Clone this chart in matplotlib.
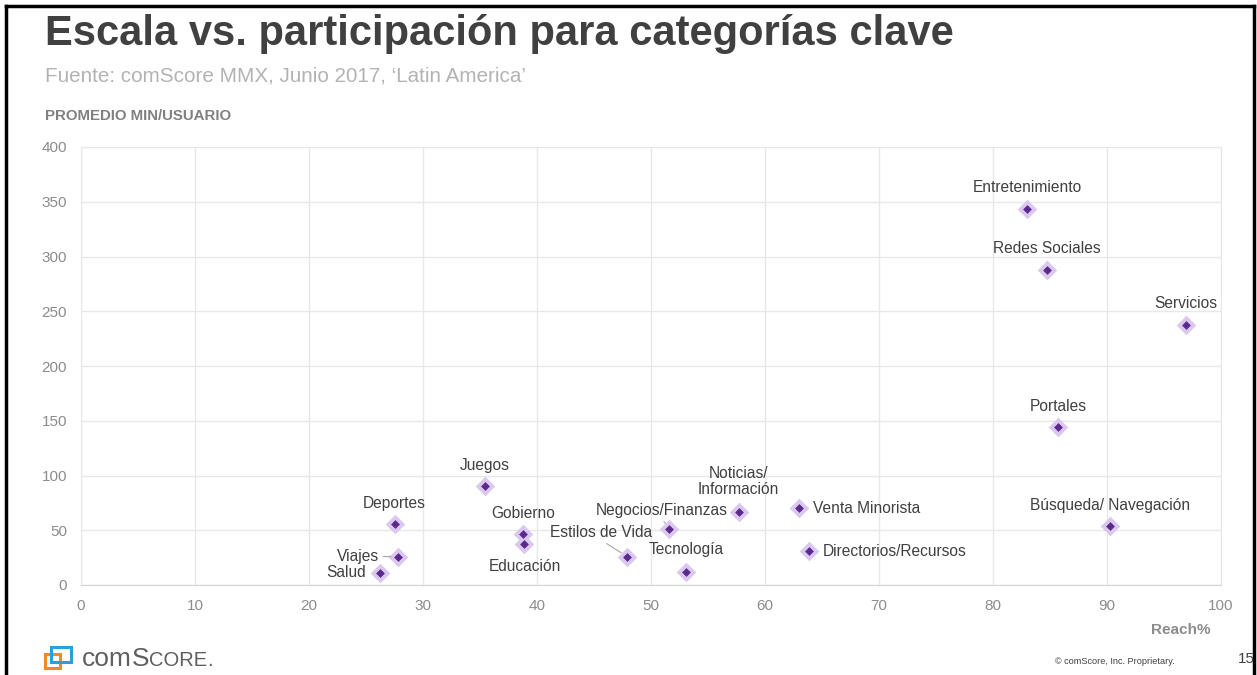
import matplotlib.pyplot as plt
from matplotlib.patches import Rectangle

plt.rcParams['font.family'] = ['Liberation Sans', 'DejaVu Sans']

# reach % vs average minutes per user
categories = ['Entretenimiento', 'Redes Sociales', 'Servicios', 'Portales',
              'Búsqueda/ Navegación', 'Venta Minorista', 'Directorios/Recursos',
              'Noticias/\nInformación', 'Negocios/Finanzas', 'Tecnología',
              'Estilos de Vida', 'Juegos', 'Gobierno', 'Educación',
              'Deportes', 'Viajes', 'Salud']
reach = [83.0, 84.7, 96.9, 85.7, 90.3, 63.0, 63.9, 57.7, 51.6, 53.1,
         47.9, 35.4, 38.8, 38.9, 27.5, 27.8, 26.2]
minutes = [343, 288, 237, 144, 54, 70, 31, 67, 51, 12,
           26, 90, 47, 37, 56, 26, 11]

x_ticks = list(range(0, 101, 10))
y_ticks = list(range(0, 401, 50))

# label placement: (dx px, dy px, ha, leader line start on text or None)
label_pos = {
    'Entretenimiento': (0, 22, 'center', None),
    'Redes Sociales': (0, 21, 'center', None),
    'Servicios': (0, 22, 'center', None),
    'Portales': (0, 21, 'center', None),
    'Búsqueda/ Navegación': (0, 20, 'center', None),
    'Venta Minorista': (14, 0, 'left', None),
    'Directorios/Recursos': (13, 0, 'left', None),
    'Noticias/\nInformación': (0, 30, 'center', None),
    'Negocios/Finanzas': (-8, 19, 'center', (0.5, 0)),
    'Tecnología': (0, 22, 'center', None),
    'Estilos de Vida': (-26, 24, 'center', (0.5, 0)),
    'Juegos': (0, 21, 'center', None),
    'Gobierno': (0, 20, 'center', None),
    'Educación': (0, -22, 'center', None),
    'Deportes': (0, 20, 'center', None),
    'Viajes': (-40, 0, 'center', (1, 0.5)),
    'Salud': (-34, 0, 'center', None),
}

fig = plt.figure(figsize=(12.57, 6.75), dpi=100)
ax = fig.add_axes([81 / 1257, 90 / 675, 1140 / 1257, 438 / 675])

ax.scatter(reach, minutes, marker='D', s=10 ** 2, color='#dcc8ef', zorder=3, linewidths=0)
ax.scatter(reach, minutes, marker='D', s=4.5 ** 2, color='#5c2a8e', zorder=4, linewidths=0)

for name, x, y in zip(categories, reach, minutes):
    dx, dy, ha, leader = label_pos[name]
    arrow = None
    if leader:
        arrow = dict(arrowstyle='-', color='#a6a6a6', lw=0.8, shrinkA=1, shrinkB=5,
                     relpos=leader)
    ax.annotate(name, (x, y), xytext=(dx, dy), textcoords='offset pixels',
                ha=ha, va='center', fontsize=11.2, color='#404040',
                multialignment='center', linespacing=1.05, arrowprops=arrow, zorder=5)

ax.set_xlim(0, 100)
ax.set_ylim(0, 400)
ax.set_xticks(x_ticks)
ax.set_yticks(y_ticks)
ax.grid(True, color='#e8e8e8', lw=1)
ax.set_axisbelow(True)
for side in ['top', 'right', 'left']:
    ax.spines[side].set_color('#e8e8e8')
ax.spines['bottom'].set_color('#d4d4d4')
ax.tick_params(length=0, labelsize=11, labelcolor='#8c8c8c', pad=10)

fig.text(45 / 1257, 1 - 34 / 675, 'Escala vs. participación para categorías clave',
         fontsize=30, fontweight='bold', color='#404040', va='center')
fig.text(45 / 1257, 1 - 76 / 675, 'Fuente: comScore MMX, Junio 2017, \u2018Latin America\u2019',
         fontsize=14.9, color='#b3b3b3', va='center')
fig.text(45 / 1257, 1 - 116 / 675, 'PROMEDIO MIN/USUARIO',
         fontsize=10.8, fontweight='bold', color='#808080', va='center')
fig.text(1210 / 1257, 1 - 630 / 675, 'Reach%', fontsize=11, fontweight='bold',
         color='#8c8c8c', ha='right', va='center')

# comScore footer
fig.patches.append(Rectangle((45 / 1257, 1 - 668 / 675), 15 / 1257, 14 / 675,
                             transform=fig.transFigure, fill=False, ec='#f08a24', lw=2.2))
fig.patches.append(Rectangle((51 / 1257, 1 - 662 / 675), 20 / 1257, 15 / 675,
                             transform=fig.transFigure, fill=False, ec='#2aa0d8', lw=2.2))
renderer = fig.canvas.get_renderer()
x_pos = 82
for part, size in [('com', 19), ('S', 19), ('CORE', 14.5), ('.', 14.5)]:
    t = fig.text(x_pos / 1257, 1 - 666 / 675, part, fontsize=size, color='#5f5f5f',
                 va='baseline')
    x_pos += t.get_window_extent(renderer).width
fig.text(1115 / 1257, 1 - 662 / 675, '\u00a9 comScore, Inc. Proprietary.', fontsize=6.6,
         color='#404040', ha='center', va='center')
fig.text(1238 / 1257, 1 - 659 / 675, '15', fontsize=11, color='#404040', va='center')

# slide frame
frame = dict(transform=fig.transFigure, color='black', lw=2.5)
fig.add_artist(plt.Line2D([6 / 1257, 6 / 1257], [0, 1 - 6 / 675], **frame))
fig.add_artist(plt.Line2D([6 / 1257, 1254 / 1257], [1 - 6 / 675, 1 - 6 / 675], **frame))
fig.add_artist(plt.Line2D([1254 / 1257, 1254 / 1257], [0, 1 - 6 / 675], **frame))

fig.savefig('out.png', dpi=100)
